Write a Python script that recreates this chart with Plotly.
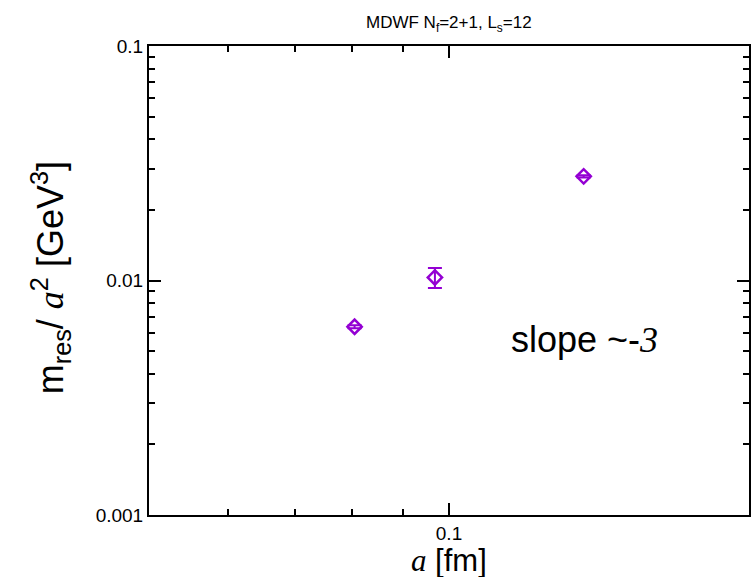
import plotly.graph_objects as go

# Data
a_fm = [0.0804, 0.0968, 0.1365]
mres_over_a2 = [0.00635, 0.0103, 0.0278]
err = [0.0001, 0.001, 0.0003]

x_major = [0.1]
x_minor = [0.06, 0.07, 0.08, 0.09]
y_major = [0.001, 0.01, 0.1]
y_major_text = ["0.001", "0.01", "0.1"]
y_minor = [m * 10 ** e for e in (-3, -2) for m in range(2, 10)]

purple = "#9400D3"
sans = "Liberation Sans, Arial, Helvetica, sans-serif"

fig = go.Figure()
fig.add_trace(go.Scatter(
    x=a_fm, y=mres_over_a2, mode="markers",
    marker=dict(symbol="diamond-open", size=11, color=purple, line=dict(width=2.5, color=purple)),
    error_y=dict(type="data", array=err, visible=True, color=purple, thickness=2, width=7),
    showlegend=False,
))

axis_common = dict(
    showline=True, linecolor="black", linewidth=2, mirror="allticks",
    ticks="inside", ticklen=12, tickwidth=1.5, tickcolor="black",
    showgrid=False, zeroline=False,
    tickfont=dict(family=sans, size=19, color="black"),
)

fig.update_xaxes(
    type="log", range=[-1.30103, -0.69897],
    tickmode="array", tickvals=x_major, ticktext=["0.1"],
    minor=dict(tickmode="array", tickvals=x_minor, ticks="inside", ticklen=6,
               tickwidth=1.5, tickcolor="black", showgrid=False),
    **axis_common,
)
fig.update_yaxes(
    type="log", range=[-3, -1],
    tickmode="array", tickvals=y_major, ticktext=y_major_text,
    minor=dict(tickmode="array", tickvals=y_minor, ticks="inside", ticklen=6,
               tickwidth=1.5, tickcolor="black", showgrid=False),
    **axis_common,
)

annotations = [
    dict(text="MDWF N<sub>f</sub>=2+1, L<sub>s</sub>=12", x=0.5, y=1.047, xref="paper", yref="paper",
         showarrow=False, font=dict(family="Liberation Sans Narrow, " + sans, size=17, color="black"),
         xanchor="center", yanchor="middle"),
    dict(text="slope ~-<i><span style='font-family:Liberation Serif'>3</span></i>", x=0.726, y=0.375,
         xref="paper", yref="paper", showarrow=False,
         font=dict(family=sans, size=36, color="black"), xanchor="center", yanchor="middle"),
    dict(text="<i><span style='font-family:Liberation Serif'>a</span></i> [fm]", x=0.5, y=-0.138,
         xref="paper", yref="paper", showarrow=False,
         font=dict(family=sans, size=31, color="black"), xanchor="center", yanchor="bottom"),
    dict(text="m<sub>res</sub>/ <i><span style='font-family:Liberation Serif'>a</span></i><sup>2</sup> [GeV<sup>3</sup>]",
         x=-0.165, y=0.505, xref="paper", yref="paper", showarrow=False, textangle=-90,
         font=dict(family=sans, size=36, color="black"), xanchor="center", yanchor="middle"),
]

fig.update_layout(
    width=753, height=577,
    margin=dict(l=149, r=2, t=46, b=62),
    paper_bgcolor="white", plot_bgcolor="white",
    annotations=annotations,
)

fig.write_html("out.html")
